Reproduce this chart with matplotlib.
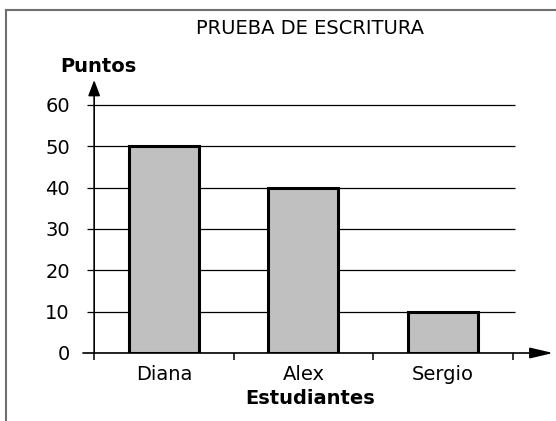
import matplotlib
matplotlib.use('Agg')
import matplotlib.pyplot as plt
from matplotlib.lines import Line2D

# data
students = ['Diana', 'Alex', 'Sergio']
points = [50, 40, 10]
y_ticks = [0, 10, 20, 30, 40, 50, 60]

W, H = 556, 421
plt.rcParams['font.family'] = 'DejaVu Sans'
plt.rcParams['font.size'] = 14

fig = plt.figure(figsize=(W / 100, H / 100), dpi=100)

# axes placed in pixels: x axis from 83 to 553, y from 353 (0) to 80 (arrow tip)
left, right, bottom, top = 83, 553, 353, 80
ax = fig.add_axes([left / W, 1 - bottom / H, (right - left) / W, (bottom - top) / H])
ax.set_xlim(-0.58, 2.79)
ax.set_ylim(0, 66)
for s in ax.spines.values():
    s.set_visible(False)

x = list(range(len(students)))

# horizontal grid lines
ax.hlines(y_ticks, -0.55, 2.52, color='black', lw=0.9, zorder=1)

ax.bar(x, points, width=0.5, color='#c0c0c0', edgecolor='black',
       linewidth=2.2, zorder=3)

# axes with arrows
ax.annotate('', xy=(2.79, 0), xytext=(-0.58, 0), annotation_clip=False,
            arrowprops=dict(arrowstyle='-|>,head_length=14,head_width=3.3',
                            mutation_scale=1, color='black', lw=1.2,
                            shrinkA=0, shrinkB=0), zorder=4)
ax.annotate('', xy=(-0.5, 66), xytext=(-0.5, 0), annotation_clip=False,
            arrowprops=dict(arrowstyle='-|>,head_length=9.5,head_width=3.6',
                            mutation_scale=1, color='black', lw=1.2,
                            shrinkA=0, shrinkB=0), zorder=4)

ax.set_yticks(y_ticks)
ax.tick_params(axis='y', length=0, pad=9.4)
ax.set_xticks(x)
ax.set_xticklabels(students)
ax.set_xticks([-0.5, 0.5, 1.5, 2.5], minor=True)
ax.tick_params(axis='x', which='major', length=0, pad=9)
ax.tick_params(axis='x', which='minor', length=5, width=1.1, direction='out')

ax.text(-0.47, 69.2, 'Puntos', ha='center', va='center', fontweight='bold',
        clip_on=False)
ax.text(1.05, -10.9, 'Estudiantes', ha='center', va='center',
        fontweight='bold', clip_on=False)

fig.text(309.5 / W, 1 - 29 / H, 'PRUEBA DE ESCRITURA', ha='center',
         va='center', fontsize=14)

# gray frame: top and left edges
fy = 1 - 9.5 / H
fig.add_artist(Line2D([5.5 / W, 1], [fy, fy], color='#707070', lw=1.5))
fig.add_artist(Line2D([5.5 / W, 5.5 / W], [0, fy], color='#707070', lw=1.5))

fig.savefig('out.png', dpi=100)
